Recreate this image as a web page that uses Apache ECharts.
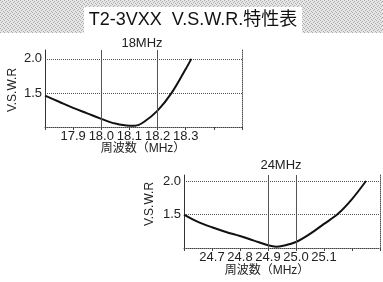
<!DOCTYPE html>
<html>
<head>
<meta charset="utf-8">
<script src="https://cdn.jsdelivr.net/npm/echarts@6/dist/echarts.min.js"></script>
<style>
  html, body { margin: 0; padding: 0; background: #fff; }
  #main { width: 383px; height: 282px; }
</style>
</head>
<body>
<div id="main"></div>
<script>
// 18MHz 帯
var freq18 = [17.8, 17.85, 17.9, 17.95, 18.0, 18.05, 18.1, 18.12, 18.15, 18.2, 18.25, 18.3, 18.32];
var swr18 = [1.46, 1.37, 1.28, 1.2, 1.12, 1.05, 1.02, 1.02, 1.07, 1.24, 1.5, 1.85, 2.0];
var ticks18 = ['17.9', '18.0', '18.1', '18.2', '18.3'];
// 24MHz 帯
var freq24 = [24.6, 24.65, 24.7, 24.75, 24.8, 24.85, 24.9, 24.93, 24.95, 25.0, 25.05, 25.1, 25.15, 25.2, 25.25];
var swr24 = [1.5, 1.39, 1.31, 1.24, 1.18, 1.11, 1.04, 1.02, 1.03, 1.09, 1.21, 1.36, 1.51, 1.73, 2.0];
var ticks24 = ['24.7', '24.8', '24.9', '25.0', '25.1'];
var swrTicks = ['1.5', '2.0'];

var FONT = '"Liberation Sans", Arial, "Noto Sans CJK JP", sans-serif';

// タイトル帯の網目模様
var pat = document.createElement('canvas');
pat.width = 4; pat.height = 4;
var pc = pat.getContext('2d');
pc.fillStyle = '#e6e6e6'; pc.fillRect(0, 0, 4, 4);
pc.fillStyle = '#adadad';
pc.fillRect(0, 0, 1, 1); pc.fillRect(2, 1, 1, 1); pc.fillRect(1, 2, 1, 1); pc.fillRect(3, 3, 1, 1);

function pairs(xs, ys) {
  return xs.map(function (x, i) { return [x, ys[i]]; });
}

function xAxisOf(idx, min, max, labels) {
  return {
    type: 'value', gridIndex: idx, min: min, max: max, interval: 0.1,
    axisLine: { show: true, lineStyle: { color: '#444', type: 'dotted', width: 1 } },
    axisTick: { show: true, length: 3, lineStyle: { color: '#444' } },
    axisLabel: {
      margin: 3, color: '#222', fontSize: 13, fontFamily: FONT,
      formatter: function (v) { var s = v.toFixed(1); return labels.indexOf(s) >= 0 ? s : ''; }
    },
    splitLine: { show: false }
  };
}

function yAxisOf(idx, max) {
  return {
    type: 'value', gridIndex: idx, min: 1, max: max, interval: 0.5,
    axisLine: { show: true, lineStyle: { color: '#333', width: 1 } },
    axisTick: { show: false },
    axisLabel: {
      margin: 3, color: '#222', fontSize: 13, fontFamily: FONT,
      formatter: function (v) { var s = v.toFixed(1); return swrTicks.indexOf(s) >= 0 ? s : ''; }
    },
    splitLine: { show: true, showMinLine: false, showMaxLine: false, lineStyle: { color: '#555', type: 'dotted', width: 1 } }
  };
}

function rightBorder(idx, max) {
  return {
    type: 'value', gridIndex: idx, position: 'right', min: 1, max: max, interval: 0.5,
    axisLine: { show: true, lineStyle: { color: '#555', type: 'dotted', width: 1 } },
    axisTick: { show: false }, axisLabel: { show: false }, splitLine: { show: false }
  };
}

function curve(idx, data, marks) {
  return {
    type: 'line', xAxisIndex: idx, yAxisIndex: idx * 2, data: data,
    smooth: 0.35, symbol: 'none',
    lineStyle: { color: '#111', width: 2 },
    markLine: {
      silent: true, symbol: 'none', label: { show: false },
      lineStyle: { color: '#555', type: 'solid', width: 1 },
      data: marks.map(function (m) { return { xAxis: m }; })
    }
  };
}

var myChart = echarts.init(document.getElementById('main'));

var option = {
  backgroundColor: '#fff',
  animation: false,
  grid: [
    { left: 45, top: 50, width: 197, height: 77 },
    { left: 184, top: 175, width: 196, height: 73 }
  ],
  xAxis: [
    xAxisOf(0, 17.8, 18.5, ticks18),
    xAxisOf(1, 24.6, 25.3, ticks24)
  ],
  yAxis: [
    yAxisOf(0, 2.13), rightBorder(0, 2.13),
    yAxisOf(1, 2.09), rightBorder(1, 2.09)
  ],
  series: [
    curve(0, pairs(freq18, swr18), [18.0, 18.2]),
    curve(1, pairs(freq24, swr24), [24.9, 25.0])
  ],
  graphic: [
    { type: 'rect', z: -1, shape: { x: 0, y: 0, width: 383, height: 33 }, style: { fill: { image: pat, repeat: 'repeat' } } },
    { type: 'rect', z: 0, shape: { x: 84, y: 7, width: 218, height: 26 }, style: { fill: '#fff' } },
    { type: 'text', z: 1, x: 193, y: 20, style: { text: 'T2-3VXX  V.S.W.R.特性表', fontSize: 18, fontFamily: FONT, fill: '#111', align: 'center', verticalAlign: 'middle' } },
    { type: 'text', x: 142, y: 43, style: { text: '18MHz', fontSize: 13, fontFamily: FONT, fill: '#222', align: 'center', verticalAlign: 'middle' } },
    { type: 'text', x: 281, y: 165, style: { text: '24MHz', fontSize: 13, fontFamily: FONT, fill: '#222', align: 'center', verticalAlign: 'middle' } },
    { type: 'text', x: 13, y: 90, rotation: Math.PI / 2, style: { text: 'V.S.W.R', fontSize: 12, fontFamily: FONT, fill: '#222', align: 'center', verticalAlign: 'middle' } },
    { type: 'text', x: 150, y: 204, rotation: Math.PI / 2, style: { text: 'V.S.W.R', fontSize: 12, fontFamily: FONT, fill: '#222', align: 'center', verticalAlign: 'middle' } },
    { type: 'text', x: 143, y: 149, style: { text: '周波数（MHz）', fontSize: 12, fontFamily: FONT, fill: '#222', align: 'center', verticalAlign: 'middle' } },
    { type: 'text', x: 267, y: 271, style: { text: '周波数（MHz）', fontSize: 12, fontFamily: FONT, fill: '#222', align: 'center', verticalAlign: 'middle' } }
  ]
};

myChart.setOption(option);
</script>
</body>
</html>
